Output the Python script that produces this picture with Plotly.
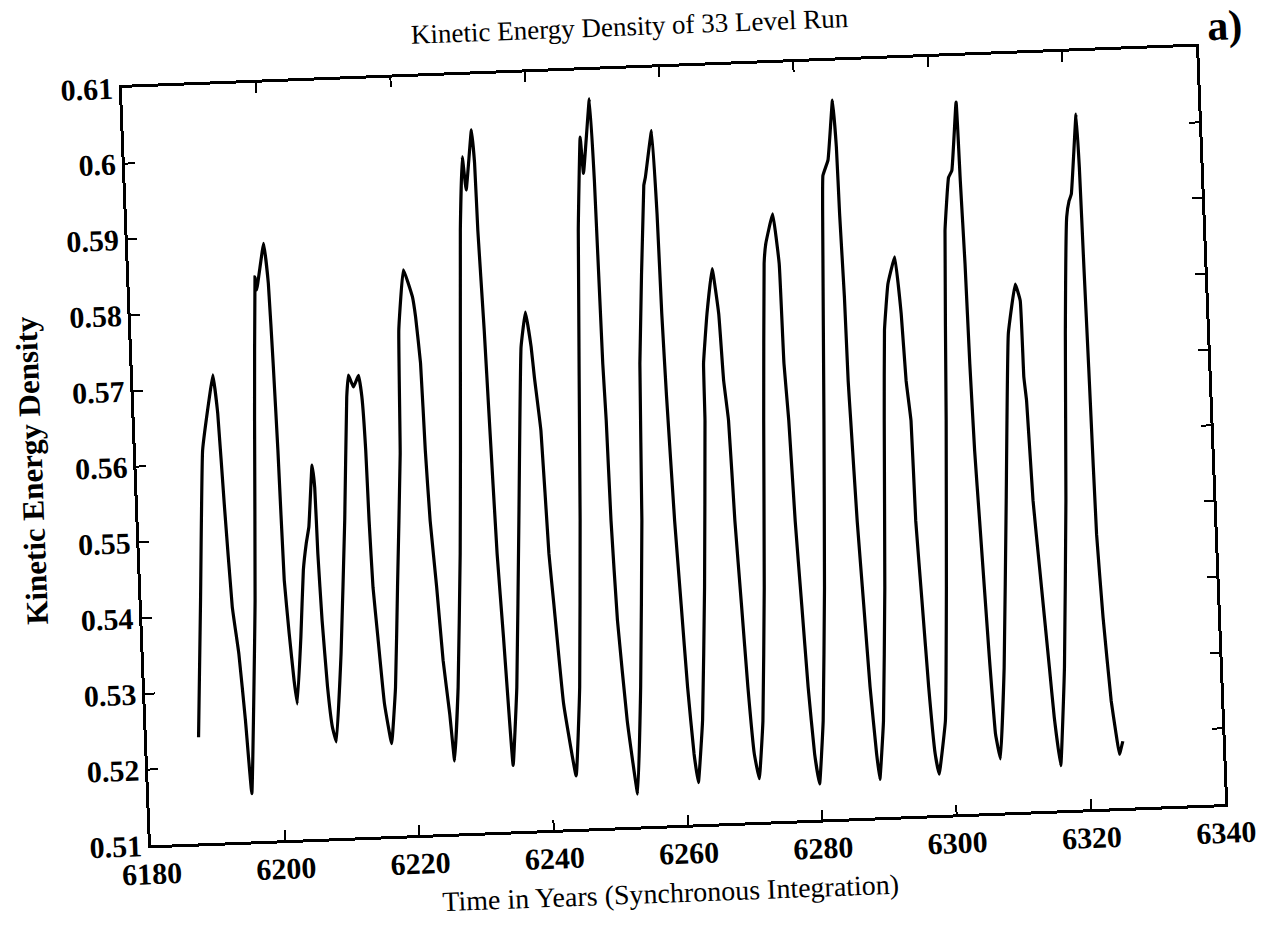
import plotly.graph_objects as go

# ---- data (values taken in the chart's own axis frame) ----
years = [
    6187.7, 6188.78, 6189.94, 6191.26, 6191.9, 6192.4, 6192.85, 6193.46, 6194.17, 6194.77,
    6195.3, 6196.89, 6197.84, 6198.72, 6198.9, 6200.2, 6200.67, 6200.93, 6201.14, 6201.34,
    6201.77, 6202.23, 6202.58, 6203.49, 6204.24, 6204.82, 6205.31, 6206.13, 6206.4, 6206.49,
    6206.74, 6207.17, 6207.66, 6208.17, 6209.37, 6210.68, 6211.68, 6212.06, 6212.73, 6213.56,
    6213.93, 6214.2, 6214.3, 6214.5, 6214.94, 6215.54, 6216.38, 6217.28, 6218.15, 6219.31,
    6219.81, 6220.83, 6222.02, 6222.38, 6222.85, 6223.06, 6223.38, 6223.97, 6224.51, 6225.19,
    6225.65, 6226.59, 6227.66, 6228.29, 6229.53, 6230.23, 6230.63, 6231.75, 6232.03, 6232.13,
    6232.51, 6232.74, 6233.15, 6233.62, 6233.96, 6234.33, 6235.32, 6236.58, 6237.89, 6238.74,
    6239.39, 6239.7, 6240.37, 6240.86, 6241.3, 6242.18, 6243.64, 6244.67, 6245.69, 6247.07,
    6247.88, 6248.17, 6249.47, 6249.75, 6249.95, 6250.14, 6250.28, 6250.67, 6251.55, 6252.69,
    6253.74, 6254.87, 6255.47, 6257.07, 6257.36, 6258.54, 6258.88, 6259.01, 6259.25, 6259.74,
    6260.23, 6260.72, 6261.3, 6261.78, 6262.76, 6263.81, 6264.83, 6264.94, 6265.74, 6266.76,
    6267.48, 6267.83, 6268.33, 6268.7, 6269.2, 6269.69, 6270.26, 6270.86, 6271.73, 6272.69,
    6273.56, 6274.52, 6274.88, 6276.07, 6276.76, 6276.9, 6277.29, 6277.67, 6278.16, 6278.65,
    6279.23, 6279.8, 6280.69, 6281.65, 6282.52, 6283.43, 6283.77, 6284.61, 6285.62, 6285.93,
    6286.03, 6286.27, 6286.35, 6286.5, 6286.89, 6287.38, 6287.86, 6288.45, 6288.79, 6289.66,
    6290.62, 6291.49, 6292.04, 6292.82, 6293.98, 6294.62, 6294.97, 6295.47, 6295.6, 6296.09,
    6296.58, 6297.16, 6297.64, 6298.87, 6299.78, 6300.7, 6301.61, 6302.44, 6302.97, 6303.99,
    6304.17, 6304.4, 6304.54, 6304.76, 6305.1, 6305.75, 6306.25, 6306.84, 6307.91, 6309.17,
    6310.44, 6311.75, 6312.4, 6312.5, 6312.77, 6313.16, 6313.75, 6314.64, 6315.08, 6315.77,
    6316.88, 6318.05, 6318.92, 6319.79, 6320.23, 6320.61, 6321.76, 6321.95, 6322.06, 6322.2,
    6322.24, 6322.42, 6322.91, 6323.64, 6324.18, 6324.56, 6325.14,
]
kinetic_energy = [
    0.5240, 0.5421, 0.5618, 0.5688, 0.5717, 0.5666, 0.5547, 0.5410, 0.5348, 0.5260,
    0.5163, 0.5418, 0.5655, 0.5844, 0.5827, 0.5888, 0.5835, 0.5729, 0.5615, 0.5443,
    0.5372, 0.5310, 0.5279, 0.5367, 0.5455, 0.5490, 0.5512, 0.5593, 0.5564, 0.5476,
    0.5388, 0.5300, 0.5247, 0.5227, 0.5343, 0.5519, 0.5681, 0.5710, 0.5694, 0.5709,
    0.5681, 0.5610, 0.5517, 0.5429, 0.5363, 0.5275, 0.5222, 0.5296, 0.5428, 0.5604,
    0.5767, 0.5846, 0.5810, 0.5783, 0.5722, 0.5607, 0.5514, 0.5426, 0.5329, 0.5258,
    0.5196, 0.5293, 0.5469, 0.5605, 0.5895, 0.5992, 0.5948, 0.6027, 0.5983, 0.5894,
    0.5762, 0.5652, 0.5467, 0.5357, 0.5268, 0.5187, 0.5290, 0.5510, 0.5738, 0.5784,
    0.5738, 0.5698, 0.5627, 0.5464, 0.5398, 0.5266, 0.5170, 0.5287, 0.5507, 0.5889,
    0.6012, 0.5964, 0.6062, 0.5954, 0.5712, 0.5637, 0.5505, 0.5373, 0.5240, 0.5143,
    0.5284, 0.5503, 0.5710, 0.5945, 0.5956, 0.6017, 0.5907, 0.5775, 0.5665, 0.5502,
    0.5391, 0.5281, 0.5193, 0.5155, 0.5237, 0.5412, 0.5632, 0.5707, 0.5773, 0.5832,
    0.5772, 0.5684, 0.5631, 0.5499, 0.5388, 0.5278, 0.5190, 0.5157, 0.5233, 0.5409,
    0.5629, 0.5836, 0.5862, 0.5901, 0.5835, 0.5703, 0.5628, 0.5495, 0.5385, 0.5275,
    0.5187, 0.5147, 0.5230, 0.5406, 0.5626, 0.5877, 0.5949, 0.5969, 0.6048, 0.5986,
    0.5898, 0.5788, 0.5677, 0.5625, 0.5492, 0.5382, 0.5272, 0.5184, 0.5150, 0.5227,
    0.5403, 0.5623, 0.5742, 0.5803, 0.5838, 0.5763, 0.5674, 0.5621, 0.5489, 0.5379,
    0.5269, 0.5181, 0.5154, 0.5224, 0.5400, 0.5620, 0.5870, 0.5940, 0.5949, 0.6039,
    0.5935, 0.5825, 0.5693, 0.5579, 0.5486, 0.5310, 0.5204, 0.5171, 0.5291, 0.5511,
    0.5731, 0.5796, 0.5774, 0.5673, 0.5642, 0.5510, 0.5421, 0.5289, 0.5223, 0.5159,
    0.5288, 0.5508, 0.5728, 0.5882, 0.5903, 0.5912, 0.6017, 0.5947, 0.5815, 0.5683,
    0.5639, 0.5462, 0.5352, 0.5242, 0.5198, 0.5171, 0.5188,
]

x_ticks = [6180, 6200, 6220, 6240, 6260, 6280, 6300, 6320, 6340]
y_ticks = [0.51, 0.52, 0.53, 0.54, 0.55, 0.56, 0.57, 0.58, 0.59, 0.60, 0.61]
y_tick_labels = ["0.51", "0.52", "0.53", "0.54", "0.55", "0.56", "0.57",
                 "0.58", "0.59", "0.6", "0.61"]

title_text = "Kinetic Energy Density of 33 Level Run"
x_title = "Time in Years (Synchronous Integration)"
y_title = "Kinetic Energy Density"
panel_label = "a)"

SERIF = "Liberation Serif, Times New Roman, serif"

fig = go.Figure()
fig.add_trace(go.Scatter(
    x=years, y=kinetic_energy, mode="lines",
    line=dict(color="black", width=3.2, shape="spline", smoothing=0.3),
    showlegend=False, hoverinfo="skip",
))

axis_common = dict(
    showline=True, linecolor="black", linewidth=2.6, mirror="ticks",
    ticks="inside", ticklen=10, tickwidth=2, tickcolor="black",
    showgrid=False, zeroline=False,
    tickfont=dict(family=SERIF, size=30, color="black", weight="bold"),
)

fig.update_xaxes(range=[6180, 6340], tickmode="array", tickvals=x_ticks,
                 ticktext=[str(v) for v in x_ticks], **axis_common)
fig.update_yaxes(range=[0.51, 0.61], tickmode="array", tickvals=y_ticks,
                 ticktext=y_tick_labels, **axis_common)

fig.update_layout(
    width=1265, height=940,
    margin=dict(l=136, r=54, t=67, b=115),
    paper_bgcolor="white", plot_bgcolor="white",
    annotations=[
        dict(text=title_text, xref="paper", yref="paper", x=0.474, y=1.056,
             xanchor="center", yanchor="middle", showarrow=False,
             font=dict(family=SERIF, size=27, color="black")),
        dict(text=x_title, xref="paper", yref="paper", x=0.481, y=-0.0897,
             xanchor="center", yanchor="middle", showarrow=False,
             font=dict(family=SERIF, size=28, color="black")),
        dict(text=y_title, xref="paper", yref="paper", x=-0.0977, y=0.501,
             xanchor="center", yanchor="middle", showarrow=False, textangle=-90,
             font=dict(family=SERIF, size=31, color="black", weight="bold")),
        dict(text=panel_label, xref="paper", yref="paper", x=1.027, y=1.026,
             xanchor="center", yanchor="middle", showarrow=False,
             font=dict(family=SERIF, size=42, color="black", weight="bold")),
    ],
)

# the reference is a slightly tilted scan of the page: tilt the whole figure the same way
tilt_js = (
    "var gd = document.getElementById('{plot_id}');"
    "gd.style.transformOrigin = '673px 446px';"
    "gd.style.transform = 'rotate(-2.2deg)';"
)

fig.write_html("out.html", post_script=tilt_js)
